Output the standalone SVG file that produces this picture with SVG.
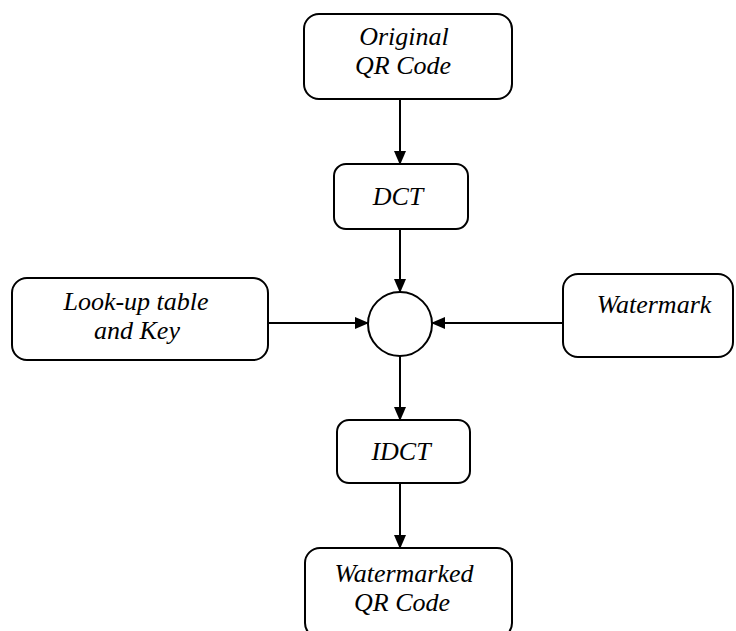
<svg xmlns="http://www.w3.org/2000/svg" width="736" height="631" viewBox="0 0 736 631">
<style>
.box{fill:#fff;stroke:#000;stroke-width:2}
.lbl{font-family:"Liberation Serif",serif;font-style:italic;font-size:26px;fill:#000;text-anchor:middle}
.con{stroke:#000;stroke-width:2;fill:none;marker-end:url(#ah)}
</style>
<defs>
<marker id="ah" markerWidth="14" markerHeight="12" refX="13" refY="6" orient="auto" markerUnits="userSpaceOnUse">
<path d="M0,0 L14,6 L0,12 Z" fill="#000"/>
</marker>
</defs>
<rect width="736" height="631" fill="#fff"/>
<g id="connectors">
<line class="con" x1="400" y1="99" x2="400" y2="164"/>
<line class="con" x1="400" y1="229" x2="400" y2="292"/>
<line class="con" x1="268" y1="323" x2="368" y2="323"/>
<line class="con" x1="563" y1="323" x2="432" y2="323"/>
<line class="con" x1="400" y1="356" x2="400" y2="420"/>
<line class="con" x1="400" y1="483" x2="400" y2="548"/>
</g>
<g id="original">
<rect class="box" x="304" y="14" width="208" height="85" rx="15"/>
<text class="lbl" x="404" y="45">Original</text>
<text class="lbl" x="403" y="74">QR Code</text>
</g>
<g id="dct">
<rect class="box" x="334" y="164" width="134" height="65" rx="12"/>
<text class="lbl" x="398" y="205">DCT</text>
</g>
<g id="combiner">
<circle class="box" cx="400" cy="324" r="32"/>
</g>
<g id="lookup">
<rect class="box" x="12" y="278" width="256" height="82" rx="15"/>
<text class="lbl" x="136" y="310">Look-up table</text>
<text class="lbl" x="137" y="339">and Key</text>
</g>
<g id="watermark">
<rect class="box" x="563" y="274" width="170" height="83" rx="15"/>
<text class="lbl" x="654" y="313">Watermark</text>
</g>
<g id="idct">
<rect class="box" x="337" y="420" width="133" height="63" rx="12"/>
<text class="lbl" x="401" y="460">IDCT</text>
</g>
<g id="watermarked">
<rect class="box" x="305" y="548" width="207" height="90" rx="15"/>
<text class="lbl" x="404" y="582">Watermarked</text>
<text class="lbl" x="402" y="611">QR Code</text>
</g>
</svg>
